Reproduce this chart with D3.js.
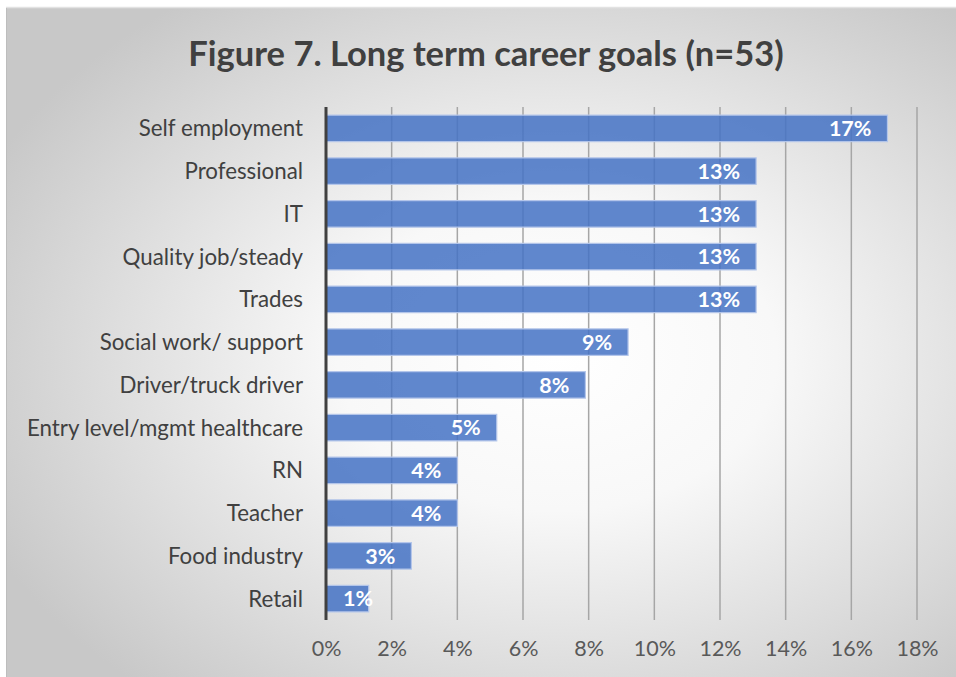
<!DOCTYPE html>
<html>
<head>
<meta charset="utf-8">
<script src="https://cdn.jsdelivr.net/npm/d3@7"></script>
<style>
  html, body { margin: 0; padding: 0; background: #ffffff; }
  svg { display: block; }
</style>
</head>
<body>
<svg id="chart" width="956" height="677"></svg>
<script>
// Long term career goals, share of respondents (%)
const categories = [
  "Self employment", "Professional", "IT", "Quality job/steady", "Trades",
  "Social work/ support", "Driver/truck driver", "Entry level/mgmt healthcare",
  "RN", "Teacher", "Food industry", "Retail"
];
const values = [17.1, 13.1, 13.1, 13.1, 13.1, 9.2, 7.9, 5.2, 4.0, 4.0, 2.6, 1.3];
const tickValues = [0, 2, 4, 6, 8, 10, 12, 14, 16, 18];
const titleText = "Figure 7. Long term career goals (n=53)";

const W = 956, H = 677;
const svg = d3.select("#chart");
const font = "Lato, 'Open Sans', sans-serif";

// Panel with radial fill
const defs = svg.append("defs");
const grad = defs.append("radialGradient")
  .attr("id", "bg").attr("cx", "58%").attr("cy", "52%").attr("r", "66%");
grad.append("stop").attr("offset", "0%").attr("stop-color", "#ffffff");
grad.append("stop").attr("offset", "35%").attr("stop-color", "#f8f8f8");
grad.append("stop").attr("offset", "100%").attr("stop-color", "#c8c8c8");

svg.append("rect").attr("x", 6).attr("y", 8).attr("width", W - 6).attr("height", H - 8)
  .attr("fill", "url(#bg)");
svg.append("line").attr("x1", 6).attr("x2", W).attr("y1", 7.5).attr("y2", 7.5)
  .attr("stroke", "#e2e2e2").attr("stroke-width", 1.5);
svg.append("line").attr("x1", 6.5).attr("x2", 6.5).attr("y1", 8).attr("y2", H)
  .attr("stroke", "#bdbdbd").attr("stroke-width", 1);

// Title
svg.append("text")
  .attr("x", 486).attr("y", 66)
  .attr("text-anchor", "middle")
  .attr("font-family", font).attr("font-weight", "bold")
  .attr("font-size", 34.5).attr("fill", "#404040")
  .text(titleText);

// Plot area
const plot = { left: 326, right: 917, top: 107, bottom: 620 };

const x = d3.scaleLinear().domain([0, 18]).range([plot.left, plot.right]);
const y = d3.scaleBand().domain(categories).range([plot.top, plot.bottom])
  .paddingInner(0.38).paddingOuter(0.19);

// Vertical gridlines
svg.append("g")
  .selectAll("line")
  .data(tickValues.filter(d => d > 0))
  .join("line")
  .attr("x1", d => x(d)).attr("x2", d => x(d))
  .attr("y1", plot.top).attr("y2", plot.bottom)
  .attr("stroke", "#a6a6a6").attr("stroke-width", 1.5);

// Bars
svg.append("g")
  .selectAll("rect")
  .data(categories)
  .join("rect")
  .attr("x", x(0))
  .attr("y", d => y(d))
  .attr("width", (d, i) => x(values[i]) - x(0))
  .attr("height", y.bandwidth())
  .attr("fill", "#4472c4").attr("fill-opacity", 0.85)
  .attr("stroke", "#b4c6ea").attr("stroke-width", 1.2);

// Value labels inside bar ends; short bars keep the label clear of the axis
svg.append("g")
  .selectAll("text")
  .data(categories)
  .join("text")
  .attr("y", d => y(d) + y.bandwidth() / 2)
  .attr("dy", "0.36em")
  .attr("text-anchor", "end")
  .attr("font-family", font).attr("font-weight", "bold")
  .attr("font-size", 21.5).attr("fill", "#ffffff")
  .text((d, i) => Math.round(values[i]) + "%")
  .attr("x", function (d, i) {
    const w = this.getComputedTextLength();
    return Math.max(x(values[i]) - 16, x(0) + 17 + w);
  });

// Zero axis line
svg.append("line")
  .attr("x1", x(0)).attr("x2", x(0))
  .attr("y1", plot.top).attr("y2", plot.bottom)
  .attr("stroke", "#404040").attr("stroke-width", 3);

// Category axis
const yAxis = svg.append("g")
  .attr("transform", `translate(${x(0) - 23},0)`)
  .call(d3.axisLeft(y).tickSize(0).tickPadding(0));
yAxis.select(".domain").remove();
yAxis.selectAll("text")
  .attr("font-family", font).attr("font-size", 22.3).attr("fill", "#404040")
  .attr("dy", "0.36em");

// Value axis
const xAxis = svg.append("g")
  .attr("transform", `translate(0,${plot.bottom})`)
  .call(d3.axisBottom(x).tickValues(tickValues).tickSize(0).tickPadding(21)
    .tickFormat(d => d + "%"));
xAxis.select(".domain").remove();
xAxis.selectAll("text")
  .attr("font-family", font).attr("font-size", 21.5).attr("fill", "#595959");
</script>
</body>
</html>
